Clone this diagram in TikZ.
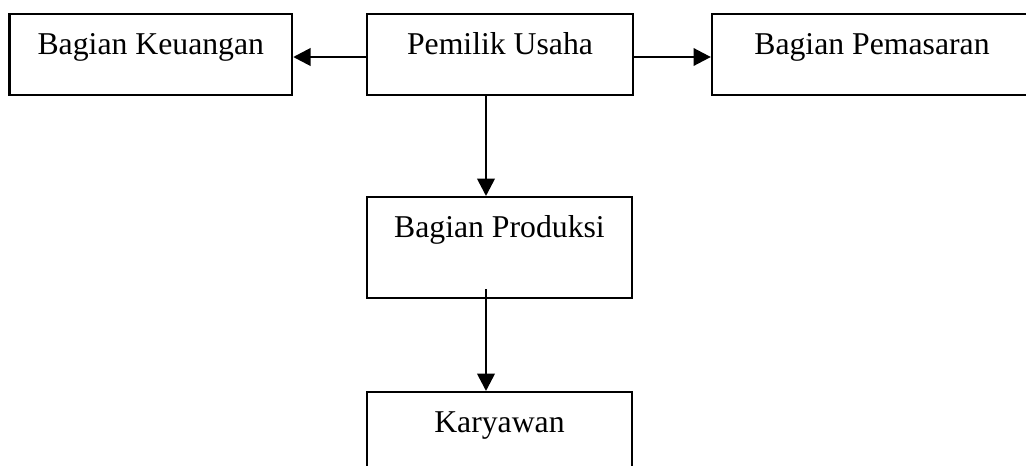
\documentclass[tikz,border=0pt]{standalone}
\usepackage{fontspec}
\setmainfont{Liberation Serif}
\usetikzlibrary{arrows.meta}
\begin{document}
\begin{tikzpicture}[x=1pt, y=1pt, font=\fontsize{23.8}{28}\selectfont,
  unit/.style={draw, line width=1.7pt, anchor=north, inner xsep=0pt, inner ysep=0pt,
    text height=30pt, text depth=30.75pt, minimum width=#1},
  tall/.style={text depth=45.75pt},
  link/.style={line width=2pt, -{Triangle[length=13pt, width=13pt]}}]
  \useasboundingbox (0,0) rectangle (769.5,-348.75);
  \node[unit=211.9pt] (fin)   at (113.1,-9.75)   {Bagian Keuangan};
  \node[unit=199.5pt] (owner) at (375,-9.75)     {Pemilik Usaha};
  \node[unit=240pt]   (mkt)   at (654,-9.75)     {Bagian Pemasaran};
  \node[unit=198.75pt, tall] (prod)  at (374.6,-147)   {Bagian Produksi\hspace{9pt}};
  \node[unit=198.75pt, tall] (staff) at (374.6,-293.25) {Karyawan};
  \coordinate (spine) at (364.5,0);
  \coordinate (rail) at (0,-42.75);
  \draw[link] (owner.west |- rail) -- (fin.east |- rail);
  \draw[link] (owner.east |- rail) -- (mkt.west |- rail);
  \draw[link] (owner.south -| spine) -- (prod.north -| spine);
  \draw[link] (prod.south -| spine) ++(0,7.5) -- (staff.north -| spine);
\end{tikzpicture}
\end{document}
